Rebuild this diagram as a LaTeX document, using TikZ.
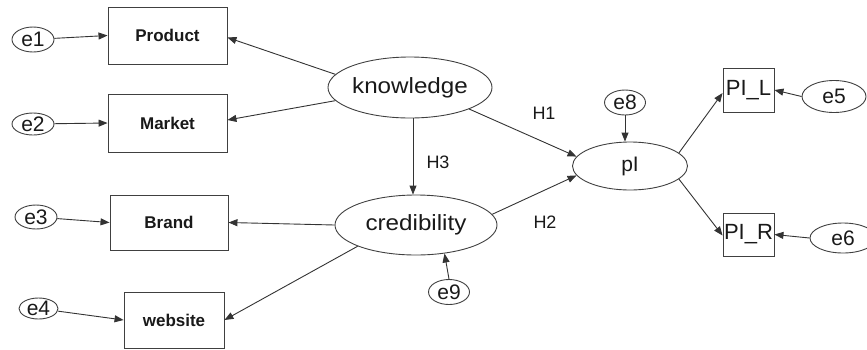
\documentclass[tikz,border=0pt]{standalone}
\usepackage{fontspec}
\setmainfont{Liberation Sans}
\newfontfamily\widefont[FakeStretch=1.1]{Liberation Sans}
\usetikzlibrary{shapes.geometric,arrows.meta}
\begin{document}
\begin{tikzpicture}[x=1pt,y=-1pt,
  arr/.style={draw=black!80,line width=0.9pt,-{Triangle[length=9pt,width=7pt]}},
  obs/.style={draw=black!75,line width=0.9pt,rectangle,inner sep=0pt,font=\fontsize{17}{17}\selectfont\bfseries,text=black!90},
  obsr/.style={draw=black!75,line width=0.9pt,rectangle,inner sep=0pt,font=\fontsize{22}{22}\selectfont,text=black!90},
  lat/.style={draw=black!75,line width=0.9pt,ellipse,inner sep=0pt,font=\fontsize{22}{22}\widefont,text=black!90},
  err/.style={draw=black!75,line width=0.9pt,ellipse,inner sep=0pt,font=\fontsize{21}{21}\selectfont,text=black!90},
  hlab/.style={inner sep=0pt,font=\fontsize{18}{18}\selectfont,text=black!90}]
\useasboundingbox (0,0) rectangle (867,349);
% observed boxes
\node[obs,minimum width=119pt,minimum height=57pt] (P) at (167.5,35.5) {Product};
\node[obs,minimum width=119pt,minimum height=58pt] (M) at (167.5,123) {Market};
\node[obs,minimum width=118pt,minimum height=55pt] (B) at (169,222.5) {Brand};
\node[obs,minimum width=100pt,minimum height=56pt] (W) at (174,320) {website};
\node[obsr,minimum width=51pt,minimum height=44pt] (PIL) at (748.5,90) {PI\_L};
\node[obsr,minimum width=51pt,minimum height=43pt] (PIR) at (748.5,234.5) {PI\_R};
% latent
\node[lat,minimum width=164pt,minimum height=61pt] (K) at (410,87.5) {knowledge};
\node[lat,minimum width=162pt,minimum height=60pt] (C) at (416,225) {credibility};
\node[err,minimum width=115pt,minimum height=48pt] (PI) at (630,166) {pI};
% errors
\node[err,minimum width=42pt,minimum height=25pt] (e1) at (33,39.5) {e1};
\node[err,minimum width=42pt,minimum height=22pt] (e2) at (33,124) {e2};
\node[err,minimum width=42pt,minimum height=24pt] (e3) at (36,217) {e3};
\node[err,minimum width=39pt,minimum height=21pt] (e4) at (38.5,308.5) {e4};
\node[err,minimum width=64pt,minimum height=32pt] (e5) at (834,96.5) {e5};
\node[err,minimum width=66pt,minimum height=30pt] (e6) at (843,238) {e6};
\node[err,minimum width=41pt,minimum height=25pt] (e8) at (625,102.5) {e8};
\node[err,minimum width=41pt,minimum height=25pt] (e9) at (449,292) {e9};
% labels
\node[hlab] (H1) at (544,113) {H1};
\node[hlab] (H3) at (438,162) {H3};
\node[hlab] (H2) at (545,222) {H2};
% connectors
\draw[arr] (e1) -- (P.west);
\draw[arr] (e2) -- (M.west);
\draw[arr] (e3) -- (B.west);
\draw[arr] (e4) -- (W.west);
\draw[arr] (K.170) -- ([yshift=-2pt]P.east);
\draw[arr] (K.190) -- ([yshift=3pt]M.east);
\draw[arr] (C.west) -- (B.east);
\draw[arr] (C.200) -- (W.east);
\draw[arr] ([xshift=3pt]K.south) -- ([xshift=-3pt]C.north);
\draw[arr] (K.-20) -- (PI.170);
\draw[arr] (C.8) -- (PI.190);
\draw[arr] (e8.south) -- (e8.south |- PI.north);
\draw[arr] (e9.north) -- (C.-45);
\draw[arr] (PI.15) -- ([yshift=-3pt]PIL.west);
\draw[arr] (PI.-15) -- ([yshift=-1pt]PIR.west);
\draw[arr] (e5.west) -- (PIL.east);
\draw[arr] (e6.west) -- (PIR.east);
\end{tikzpicture}
\end{document}
